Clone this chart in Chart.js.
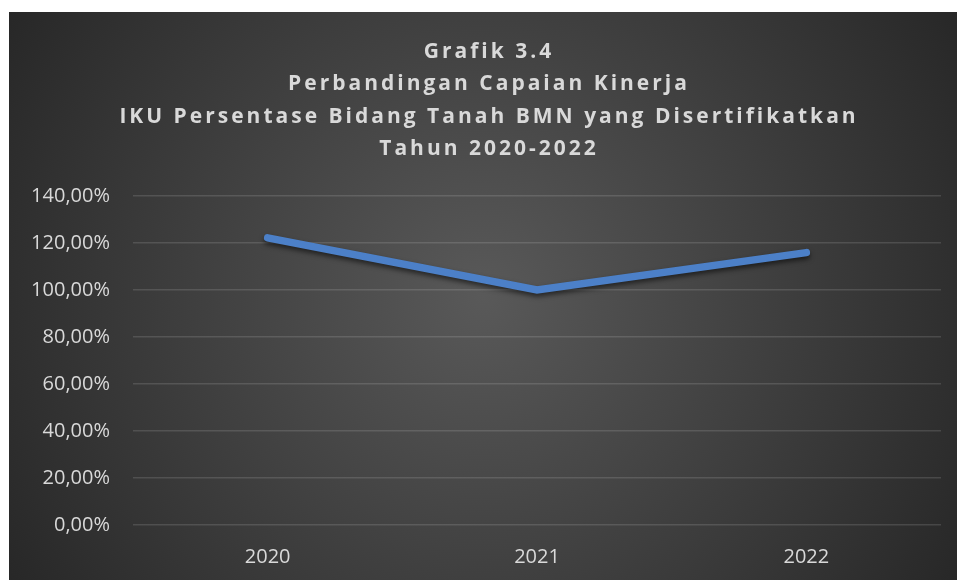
<!DOCTYPE html>
<html>
<head>
<meta charset="utf-8">
<script src="https://cdn.jsdelivr.net/npm/chart.js@4"></script>
<style>
  html, body { margin: 0; padding: 0; background: #ffffff; }
  #wrap { position: absolute; left: 9px; top: 12px; width: 948px; height: 568px; }
</style>
</head>
<body>
<div id="wrap"><canvas id="lineChart"></canvas></div>
<script>
// data
var tahun = ['2020', '2021', '2022'];
var capaian = [122.2, 100, 115.9];
var judul = [
    'Grafik 3.4',
    'Perbandingan Capaian Kinerja',
    'IKU Persentase Bidang Tanah BMN yang Disertifikatkan',
    'Tahun 2020-2022'
];

var textColor = '#d9d9d9';

// background gradient like the excel dark style
var bgPlugin = {
    id: 'bgGradient',
    beforeDraw: function (chart) {
        var ctx = chart.ctx;
        var w = chart.width, h = chart.height;
        var g = ctx.createRadialGradient(w * 0.5, h * 0.5, 0, w * 0.5, h * 0.5, w * 0.6);
        g.addColorStop(0, '#595959');
        g.addColorStop(1, '#262626');
        ctx.save();
        ctx.fillStyle = g;
        ctx.fillRect(0, 0, w, h);
        ctx.restore();
    }
};

// title with letter spacing
var titlePlugin = {
    id: 'spacedTitle',
    afterDraw: function (chart) {
        var ctx = chart.ctx;
        ctx.save();
        ctx.font = 'bold 21px "Open Sans"';
        ctx.fillStyle = textColor;
        ctx.textAlign = 'center';
        ctx.textBaseline = 'alphabetic';
        ctx.letterSpacing = '3px';
        judul.forEach(function (t, i) {
            ctx.fillText(t, 480, 46 + i * 32.3);
        });
        ctx.restore();
    }
};

// soft shadow under the line
var shadowPlugin = {
    id: 'lineShadow',
    beforeDatasetDraw: function (chart) {
        var ctx = chart.ctx;
        ctx.save();
        ctx.shadowColor = 'rgba(0,0,0,0.55)';
        ctx.shadowBlur = 5;
        ctx.shadowOffsetY = 3;
    },
    afterDatasetDraw: function (chart) {
        chart.ctx.restore();
    }
};

var ctx = document.getElementById('lineChart').getContext('2d');
var lineChart = new Chart(ctx, {
    type: 'line',
    data: {
        labels: tahun,
        datasets: [{
            label: 'Capaian',
            data: capaian,
            borderColor: '#4c80c8',
            borderWidth: 7.5,
            borderCapStyle: 'round',
            borderJoinStyle: 'miter',
            pointRadius: 0,
            tension: 0
        }]
    },
    options: {
        responsive: true,
        maintainAspectRatio: false,
        animation: false,
        layout: {
            padding: { top: 184, right: 16, left: 0, bottom: 0 }
        },
        plugins: {
            legend: { display: false },
            title: { display: false },
            tooltip: { enabled: false }
        },
        scales: {
            x: {
                offset: true,
                grid: { display: false, drawTicks: false },
                border: { display: false },
                ticks: {
                    color: textColor,
                    font: { family: 'Open Sans', size: 20 },
                    padding: 20
                },
                afterFit: function (scale) { scale.height = 55; }
            },
            y: {
                min: 0,
                max: 140,
                grid: { color: 'rgba(255,255,255,0.13)', lineWidth: 1.5, drawTicks: false },
                border: { display: false },
                ticks: {
                    stepSize: 20,
                    color: textColor,
                    font: { family: 'Open Sans', size: 20 },
                    padding: 23,
                    callback: function (v) {
                        return v.toFixed(2).replace('.', ',') + '%';
                    }
                },
                afterFit: function (scale) { scale.width = 124; }
            }
        }
    },
    plugins: [bgPlugin, titlePlugin, shadowPlugin]
});
</script>
</body>
</html>
